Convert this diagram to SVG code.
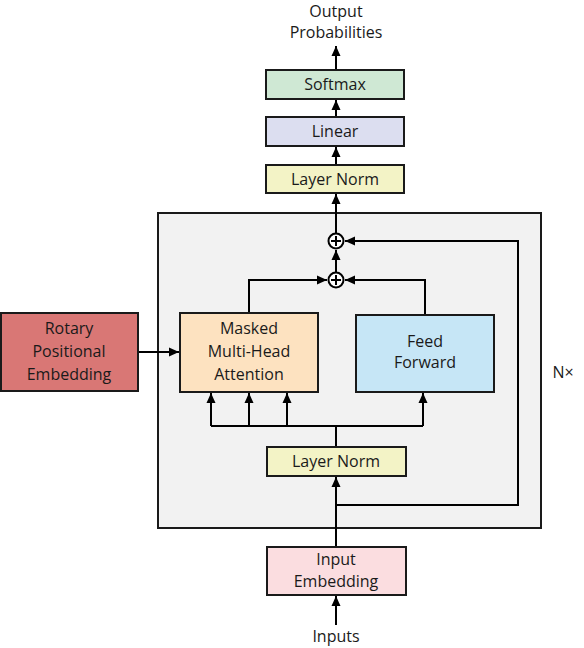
<svg xmlns="http://www.w3.org/2000/svg" width="584" height="648" viewBox="0 0 584 648">
<style>
.box{stroke:#1a1a1a;stroke-width:2}
.t{font-family:"Open Sans","Noto Sans",sans-serif;font-size:16px;fill:#1a1a1a;text-anchor:middle}
.c{fill:none;stroke:#000;stroke-width:2}
.a{marker-end:url(#ah)}
</style>
<defs>
<marker id="ah" markerUnits="userSpaceOnUse" markerWidth="10" markerHeight="10" viewBox="0 0 10 10" refX="10" refY="5" orient="auto">
<path d="M0,0.5 L10,5 L0,9.5 z" fill="#000"/>
</marker>
</defs>
<rect width="584" height="648" fill="#fff"/>
<g id="block">
<rect x="158" y="213" width="383" height="315" fill="#f2f2f2" class="box"/>
<text class="t" x="563" y="378">N×</text>
</g>
<g id="connectors">
<path class="c a" d="M336,625 V596"/>
<path class="c a" d="M336,547 V477"/>
<path class="c a" d="M336,505 H518 V241 H345"/>
<path class="c" d="M336,447 V426 M211,426 H423"/>
<path class="c a" d="M211,426 V393"/>
<path class="c a" d="M249,426 V393"/>
<path class="c a" d="M287,426 V393"/>
<path class="c a" d="M423,426 V393"/>
<path class="c a" d="M249,313 V280 H327"/>
<path class="c a" d="M425,315 V280 H345"/>
<path class="c a" d="M336,272 V250"/>
<path class="c a" d="M336,233 V194"/>
<path class="c a" d="M336,165 V147"/>
<path class="c a" d="M336,117 V100"/>
<path class="c a" d="M336,70 V46"/>
<path class="c a" d="M138,352 H179"/>
</g>
<g id="add2">
<circle cx="336" cy="241" r="7.5" fill="#fff" stroke="#000" stroke-width="2"/>
<path d="M331,241 H341 M336,236 V246" stroke="#000" stroke-width="2"/>
</g>
<g id="add1">
<circle cx="336" cy="280" r="7.5" fill="#fff" stroke="#000" stroke-width="2"/>
<path d="M331,280 H341 M336,275 V285" stroke="#000" stroke-width="2"/>
</g>
<g id="softmax">
<rect x="266" y="70" width="138" height="29" fill="#cfe8d4" class="box"/>
<text class="t" x="335" y="90">Softmax</text>
</g>
<g id="linear">
<rect x="266" y="117" width="138" height="29" fill="#dcdef0" class="box"/>
<text class="t" x="335" y="137">Linear</text>
</g>
<g id="layernorm-top">
<rect x="266" y="165" width="138" height="28" fill="#f3f3c6" class="box"/>
<text class="t" x="335" y="185">Layer Norm</text>
</g>
<g id="output">
<text class="t" x="336" y="17">Output</text>
<text class="t" x="336" y="38">Probabilities</text>
</g>
<g id="mha">
<rect x="180" y="313" width="138" height="79" fill="#fde2c0" class="box"/>
<text class="t" x="249" y="334">Masked</text>
<text class="t" x="249" y="357">Multi-Head</text>
<text class="t" x="249" y="380">Attention</text>
</g>
<g id="ff">
<rect x="356" y="315" width="138" height="77" fill="#c6e6f6" class="box"/>
<text class="t" x="425" y="347">Feed</text>
<text class="t" x="425" y="368">Forward</text>
</g>
<g id="layernorm-bottom">
<rect x="267" y="447" width="139" height="29" fill="#f3f3c6" class="box"/>
<text class="t" x="336" y="467">Layer Norm</text>
</g>
<g id="rotary">
<rect x="1" y="313" width="137" height="78" fill="#d97775" class="box"/>
<text class="t" x="69" y="334">Rotary</text>
<text class="t" x="69" y="357">Positional</text>
<text class="t" x="69" y="380">Embedding</text>
</g>
<g id="input-embedding">
<rect x="267" y="547" width="139" height="48" fill="#fbdde0" class="box"/>
<text class="t" x="336" y="565">Input</text>
<text class="t" x="336" y="587">Embedding</text>
</g>
<g id="inputs">
<text class="t" x="336" y="642">Inputs</text>
</g>
</svg>
